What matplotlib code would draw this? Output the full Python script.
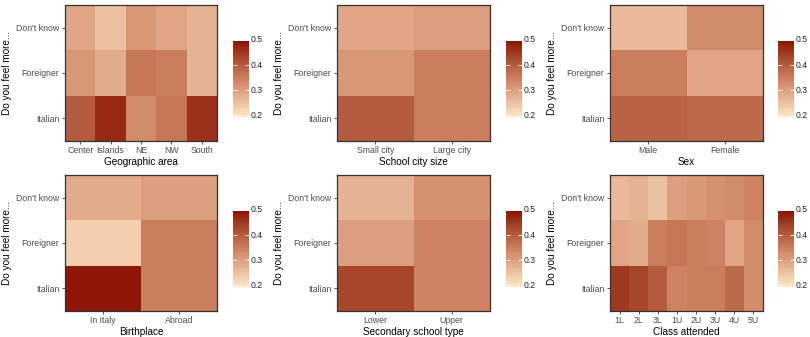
import matplotlib
matplotlib.use("Agg")
import matplotlib.pyplot as plt
import numpy as np
from matplotlib.colors import ListedColormap, Normalize, to_rgb

plt.rcParams["font.family"] = ["Liberation Sans", "DejaVu Sans"]

answers = ["Italian", "Foreigner", "Don't know"]  # bottom to top

area_cats = ["Center", "Islands", "NE", "NW", "South"]
area_vals = [[0.40, 0.47, 0.33, 0.36, 0.46],
             [0.31, 0.28, 0.36, 0.35, 0.27],
             [0.29, 0.25, 0.31, 0.29, 0.27]]

city_cats = ["Small city", "Large city"]
city_vals = [[0.40, 0.35],
             [0.31, 0.35],
             [0.29, 0.30]]

sex_cats = ["Male", "Female"]
sex_vals = [[0.39, 0.38],
            [0.35, 0.29],
            [0.26, 0.33]]

birth_cats = ["In Italy", "Abroad"]
birth_vals = [[0.49, 0.35],
              [0.23, 0.35],
              [0.28, 0.30]]

school_cats = ["Lower", "Upper"]
school_vals = [[0.43, 0.34],
               [0.30, 0.34],
               [0.27, 0.32]]

class_cats = ["1L", "2L", "3L", "1U", "2U", "3U", "4U", "5U"]
class_vals = [[0.45, 0.43, 0.40, 0.34, 0.35, 0.35, 0.38, 0.33],
              [0.29, 0.28, 0.35, 0.36, 0.35, 0.34, 0.29, 0.33],
              [0.26, 0.27, 0.25, 0.30, 0.31, 0.32, 0.33, 0.34]]

panels = [
    ("Geographic area", area_cats, area_vals),
    ("School city size", city_cats, city_vals),
    ("Sex", sex_cats, sex_vals),
    ("Birthplace", birth_cats, birth_vals),
    ("Secondary school type", school_cats, school_vals),
    ("Class attended", class_cats, class_vals),
]


# two-colour gradient interpolated in Lab space, like ggplot's scale_fill_gradient
_WHITE = np.array([0.95047, 1.0, 1.08883])
_M = np.array([[0.4124, 0.3576, 0.1805],
               [0.2126, 0.7152, 0.0722],
               [0.0193, 0.1192, 0.9505]])


def rgb2lab(rgb):
    c = np.asarray(rgb, float)
    c = np.where(c <= 0.04045, c / 12.92, ((c + 0.055) / 1.055) ** 2.4)
    xyz = _M @ c / _WHITE
    f = np.where(xyz > 216 / 24389, np.cbrt(xyz), (24389 / 27 * xyz + 16) / 116)
    return np.array([116 * f[1] - 16, 500 * (f[0] - f[1]), 200 * (f[1] - f[2])])


def lab2rgb(lab):
    L, a, b = lab
    fy = (L + 16) / 116
    fx = fy + a / 500
    fz = fy - b / 200
    f = np.array([fx, fy, fz])
    xyz = np.where(f ** 3 > 216 / 24389, f ** 3, (116 * f - 16) / (24389 / 27)) * _WHITE
    c = np.linalg.solve(_M, xyz)
    c = np.where(c <= 0.0031308, 12.92 * c, 1.055 * np.clip(c, 0, None) ** (1 / 2.4) - 0.055)
    return np.clip(c, 0, 1)


low, high = rgb2lab(to_rgb("#FEE8C8")), rgb2lab(to_rgb("#8B1006"))
cmap = ListedColormap([lab2rgb(low + t * (high - low)) for t in np.linspace(0, 1, 256)])
norm = Normalize(vmin=0.192, vmax=0.495)

W, H = 810, 337
fig = plt.figure(figsize=(W / 100, H / 100), dpi=100)


def box(x0, y0, x1, y1):
    return [x0 / W, 1 - y1 / H, (x1 - x0) / W, (y1 - y0) / H]


heat_x = [(65, 217), (337, 490), (610, 763)]
cbar_x = [(233, 249), (506, 522), (778, 794)]
rows_y = [(5, 141), (175, 311)]
cbar_y = [(41, 117), (211, 287)]

for i, (title, cats, vals) in enumerate(panels):
    r, c = divmod(i, 3)
    ax = fig.add_axes(box(heat_x[c][0], rows_y[r][0], heat_x[c][1], rows_y[r][1]))
    data = np.array(vals)
    mesh = ax.pcolormesh(np.arange(len(cats) + 1) - 0.5,
                         np.arange(len(answers) + 1) - 0.5,
                         data, cmap=cmap, norm=norm)
    ax.set_xticks(range(len(cats)))
    ax.set_xticklabels(cats)
    ax.set_yticks(range(len(answers)))
    ax.set_yticklabels(answers)
    ax.tick_params(labelsize=6.3, labelcolor="#4D4D4D", color="#333333",
                   length=2.5, width=0.6, pad=1.5)
    ax.tick_params(axis="x", pad=1.0)
    for s in ax.spines.values():
        s.set_color("#333333")
        s.set_linewidth(0.9)
    ax.set_xlabel(title, fontsize=7.2, labelpad=1.2)
    ax.set_ylabel("Do you feel more...", fontsize=7.2, labelpad=3)

    cax = fig.add_axes(box(cbar_x[c][0], cbar_y[r][0], cbar_x[c][1], cbar_y[r][1]))
    cb = fig.colorbar(mesh, cax=cax)
    cb.outline.set_visible(False)
    cax.set_ylim(0.192, 0.495)
    cax.set_yticks([0.2, 0.3, 0.4])
    cax.yaxis.set_ticks_position("both")
    cax.tick_params(direction="in", color="white", length=3, width=0.6,
                    labelsize=6.2, labelcolor="#222222", pad=1.2,
                    labelleft=False, labelright=True)
    # ggplot still labels the top break, drawn at the very edge of the bar
    cax.annotate("0.5", xy=(1.0, 0.5), xycoords=cax.get_yaxis_transform(),
                 xytext=(1.2, 0), textcoords="offset points",
                 fontsize=6.2, color="#222222", va="center", ha="left")

fig.savefig("out.png", dpi=100)
